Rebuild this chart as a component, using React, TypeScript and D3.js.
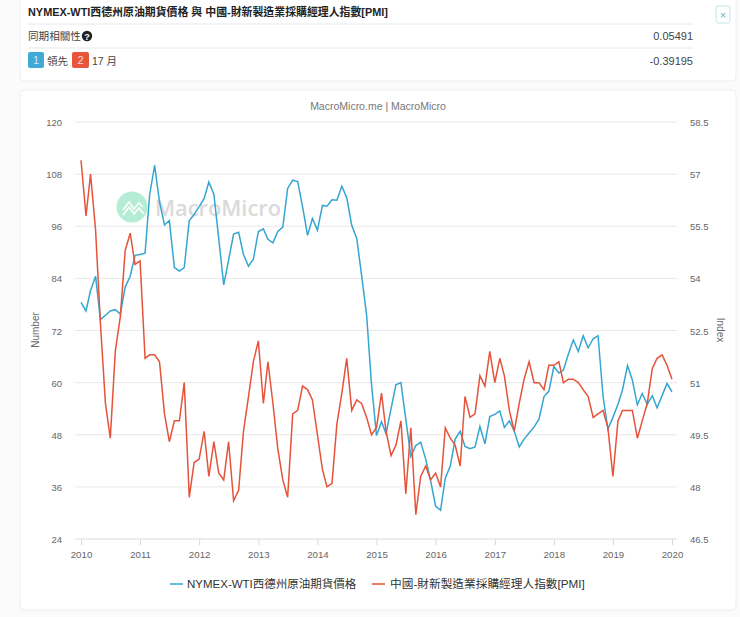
import React, { useEffect, useRef } from "react";
import * as d3 from "d3";

// monthly, Jan 2010 to Jan 2020
const wti = [
  78.5, 76.5, 81.2, 84.5, 74.5, 75.5, 76.5, 76.8, 75.8, 82, 84.5, 89.3,
  89.5, 89.8, 103.2, 110, 101.6, 96.3, 97.3, 86.5, 85.7, 86.5, 97.3, 98.7,
  100.5, 102.4, 106.2, 103.4, 93.2, 82.5, 88.2, 94.2, 94.6, 89.5, 86.8, 88.4,
  94.8, 95.4, 93, 92.2, 94.8, 95.8, 104.7, 106.6, 106.3, 100.5, 93.9, 97.8,
  95.1, 100.8, 100.6, 102.1, 102, 105.2, 102.6, 96.2, 93.2, 84.7, 75.5, 59.7,
  47.8, 51, 48.2, 54, 59.5, 60, 51.6, 43, 45.5, 46.3, 42.4, 37.5,
  31.6, 30.6, 38, 40.8, 47, 48.8, 45.3, 44.8, 45.2, 49.9, 45.9, 52.2,
  52.7, 53.5, 49.7, 51.2, 48.9, 45.2, 47, 48.4, 49.8, 51.6, 56.8, 58,
  63.7, 62.2, 62.9, 66.6, 69.8, 67.2, 70.8, 68, 70.1, 70.8, 56.8, 49.3,
  52, 55, 58.3, 63.9, 60.6, 54.9, 57.5, 55, 57, 54.2, 57, 59.8,
  57.9,
];
const pmi = [
  57.4, 55.8, 57, 55.4, 52.7, 50.4, 49.4, 51.9, 52.9, 54.8, 55.3, 54.4,
  54.5, 51.7, 51.8, 51.8, 51.6, 50.1, 49.3, 49.9, 49.9, 51, 47.7, 48.7,
  48.8, 49.6, 48.3, 49.3, 48.4, 48.2, 49.3, 47.6, 47.9, 49.6, 50.6, 51.6,
  52.2, 50.4, 51.6, 50.4, 49.1, 48.2, 47.7, 50.1, 50.2, 50.9, 50.8, 50.5,
  49.5, 48.5, 48, 48.1, 49.8, 50.7, 51.7, 50.2, 50.5, 50.4, 50, 49.5,
  49.7, 50.7, 49.6, 48.9, 49.2, 49.9, 47.8, 49.7, 47.2, 48.3, 48.6, 48.2,
  48.4, 48, 49.7, 49.4, 49.2, 48.6, 50.6, 50, 50.1, 51.2, 50.9, 51.9,
  51, 51.7, 51.2, 50.2, 49.6, 50.4, 51.1, 51.6, 51, 51, 50.8, 51.5,
  51.5, 51.6, 51, 51.1, 51.1, 51, 50.8, 50.6, 50, 50.1, 50.2, 49.7,
  48.3, 49.9, 50.2, 50.2, 50.2, 49.4, 49.9, 50.4, 51.4, 51.7, 51.8, 51.5,
  51.1,
];
const leftTicks = [24, 36, 48, 60, 72, 84, 96, 108, 120];
const rightTicks = [46.5, 48, 49.5, 51, 52.5, 54, 55.5, 57, 58.5];
const yearTicks = [2010, 2011, 2012, 2013, 2014, 2015, 2016, 2017, 2018, 2019, 2020];

const wtiName = "NYMEX-WTI西德州原油期貨價格";
const pmiName = "中國-財新製造業採購經理人指數[PMI]";
const pageTitle = wtiName + " 與 " + pmiName;
const sameCorr = "0.05491";
const leadCorr = "-0.39195";

const BLUE = "#35a6d1";
const RED = "#e5533a";
const FONT = "'Liberation Sans', 'Noto Sans CJK TC', sans-serif";

function drawChart(element) {
  d3.select(element).selectAll("*").remove();

  const svg = d3
    .select(element)
    .attr("width", 740)
    .attr("height", 617)
    .style("font-family", FONT);

  svg.append("rect").attr("width", 740).attr("height", 617).attr("fill", "#fbfbfc");

  // cards
  const card = (y, h) =>
    svg
      .append("rect")
      .attr("x", 20)
      .attr("y", y)
      .attr("width", 716)
      .attr("height", h)
      .attr("rx", 4)
      .attr("fill", "#fff")
      .attr("stroke", "#eceef0");
  card(-6, 87);
  card(90, 520);

  const text = (x, y, str, size, color, anchor = "start", weight = "normal") =>
    svg
      .append("text")
      .attr("x", x)
      .attr("y", y)
      .attr("font-size", size)
      .attr("fill", color)
      .attr("text-anchor", anchor)
      .attr("font-weight", weight)
      .text(str);

  // header table
  text(28, 16, pageTitle, 10.9, "#222", "start", "bold");
  [24, 48].forEach((y) =>
    svg.append("line").attr("x1", 28).attr("x2", 693).attr("y1", y).attr("y2", y).attr("stroke", "#e6e8ea")
  );
  text(28, 40, "同期相關性", 10.6, "#444");
  svg.append("circle").attr("cx", 87).attr("cy", 36).attr("r", 5.2).attr("fill", "#222");
  text(87, 39.5, "?", 9, "#fff", "middle", "bold");
  text(693, 40, sameCorr, 11, "#444", "end");

  svg.append("rect").attr("x", 28).attr("y", 52).attr("width", 16).attr("height", 16).attr("rx", 2).attr("fill", "#3fa9d8");
  text(36, 64, "1", 11, "#cfeaf6", "middle");
  text(47, 65, "領先", 10.5, "#444");
  svg.append("rect").attr("x", 72).attr("y", 52).attr("width", 17).attr("height", 16).attr("rx", 2).attr("fill", "#e8553a");
  text(80.5, 64, "2", 11, "#fbd9d2", "middle");
  text(92, 65, "17 月", 10.5, "#444");
  text(693, 65, leadCorr, 11, "#444", "end");

  // close button
  svg
    .append("rect")
    .attr("x", 716)
    .attr("y", 6)
    .attr("width", 14)
    .attr("height", 17)
    .attr("rx", 2)
    .attr("fill", "#fff")
    .attr("stroke", "#bfe6e6");
  text(723, 19, "×", 11, "#5cbcc0", "middle");

  text(378, 110, "MacroMicro.me | MacroMicro", 10.5, "#777", "middle");

  // scales
  const months = wti.map((_, i) => new Date(2010, i, 1));
  const x = d3
    .scaleTime()
    .domain([new Date(2010, 0, 1), new Date(2020, 0, 1)])
    .range([81, 672]);
  const yLeft = d3.scaleLinear().domain([24, 120]).range([539, 122]);
  const yRight = d3.scaleLinear().domain([46.5, 58.5]).range([539, 122]);

  // grid
  svg
    .append("g")
    .selectAll("line")
    .data(leftTicks)
    .join("line")
    .attr("x1", 75)
    .attr("x2", 677)
    .attr("y1", (d) => yLeft(d))
    .attr("y2", (d) => yLeft(d))
    .attr("stroke", d => (d === 24 ? "#d5d9dc" : "#e8e8e8"));

  // watermark
  svg.append("circle").attr("cx", 132).attr("cy", 207).attr("r", 15.5).attr("fill", "#b5ecd6");
  svg
    .append("path")
    .attr("d", d3.line()([[123, 210], [129, 202], [134, 209], [139, 203], [143, 207]]))
    .attr("fill", "none")
    .attr("stroke", "#fff")
    .attr("stroke-width", 1.6);
  svg
    .append("path")
    .attr("d", d3.line()([[123, 215], [129, 207], [134, 214], [139, 208], [144, 214]]))
    .attr("fill", "none")
    .attr("stroke", "#fff")
    .attr("stroke-width", 1.6);
  text(155, 216, "MacroMicro", 22, "#dadada", "start", "600")
    .style("font-family", "'Open Sans', sans-serif")
    .attr("textLength", 126)
    .attr("lengthAdjust", "spacingAndGlyphs");

  const xAxis = d3
    .axisBottom(x)
    .tickValues(yearTicks.map((y) => new Date(y, 0, 1)))
    .tickFormat(d3.timeFormat("%Y"))
    .tickSize(6)
    .tickSizeOuter(0);
  const gx = svg.append("g").attr("transform", "translate(0,539)").call(xAxis);
  gx.select(".domain").remove();
  gx.selectAll("line").attr("stroke", "#d5d9dc");
  gx.selectAll("text").attr("font-size", 9.7).attr("fill", "#666").attr("font-family", FONT).attr("dy", 9.5);

  const gl = svg
    .append("g")
    .attr("transform", "translate(65,0.5)")
    .call(d3.axisLeft(yLeft).tickValues(leftTicks).tickSize(0));
  gl.select(".domain").remove();
  gl.selectAll("text").attr("font-size", 9.5).attr("fill", "#666").attr("font-family", FONT);

  const gr = svg
    .append("g")
    .attr("transform", "translate(687,0.5)")
    .call(d3.axisRight(yRight).tickValues(rightTicks).tickFormat(d3.format(".4~f")).tickSize(0));
  gr.select(".domain").remove();
  gr.selectAll("text").attr("font-size", 9.5).attr("fill", "#666").attr("font-family", FONT);

  svg
    .append("text")
    .attr("transform", "translate(39,330) rotate(-90)")
    .attr("text-anchor", "middle")
    .attr("font-size", 10)
    .attr("fill", "#666")
    .text("Number");
  svg
    .append("text")
    .attr("transform", "translate(717,330) rotate(90)")
    .attr("text-anchor", "middle")
    .attr("font-size", 10)
    .attr("fill", "#666")
    .text("Index");

  // lines
  const lineLeft = d3.line().x((_, i) => x(months[i])).y((d) => yLeft(d));
  const lineRight = d3.line().x((_, i) => x(months[i])).y((d) => yRight(d));
  svg
    .append("path")
    .datum(wti)
    .attr("fill", "none")
    .attr("stroke", BLUE)
    .attr("stroke-width", 1.5)
    .attr("d", lineLeft);
  svg
    .append("path")
    .datum(pmi)
    .attr("fill", "none")
    .attr("stroke", RED)
    .attr("stroke-width", 1.5)
    .attr("d", lineRight);

  // legend
  svg.append("line").attr("x1", 170).attr("x2", 183).attr("y1", 584).attr("y2", 584).attr("stroke", BLUE).attr("stroke-width", 1.5);
  text(187, 588, wtiName, 11.5, "#333");
  svg.append("line").attr("x1", 372).attr("x2", 385).attr("y1", 584).attr("y2", 584).attr("stroke", RED).attr("stroke-width", 1.5);
  text(390, 588, pmiName, 11.7, "#333");
}

export default function App() {
  const ref = useRef(null);
  useEffect(() => {
    drawChart(ref.current);
  }, []);
  return <svg ref={ref} style={{ position: "absolute", left: 0, top: 0, display: "block" }} />;
}
